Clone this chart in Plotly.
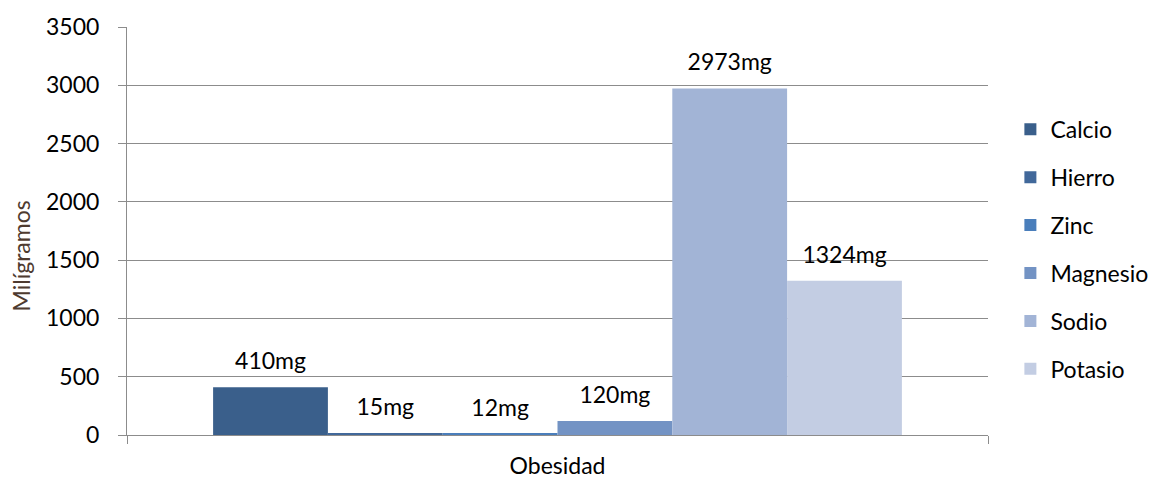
import plotly.graph_objects as go

category = ["Obesidad"]
series_names = ["Calcio", "Hierro", "Zinc", "Magnesio", "Sodio", "Potasio"]
series_values = [410, 15, 12, 120, 2973, 1324]
colors = ["#3A5F8B", "#41689A", "#4A7EBB", "#7393C4", "#A2B4D6", "#C3CDE3"]
y_ticks = [0, 500, 1000, 1500, 2000, 2500, 3000, 3500]

font_family = "Lato, Open Sans, sans-serif"
FS = 23

fig = go.Figure()
for name, val, col in zip(series_names, series_values, colors):
    fig.add_trace(go.Bar(
        x=category, y=[val], name=name, legendgroup=name,
        marker=dict(color=col, line=dict(width=0)),
        hoverinfo="name+y",
    ))
# data labels, grouped to sit above the bars
for name, val in zip(series_names, series_values):
    fig.add_trace(go.Scatter(
        x=category, y=[val], mode="markers+text", showlegend=False,
        marker=dict(size=18, color="rgba(0,0,0,0)"),
        text=[f"{val}mg"], textposition="top center",
        textfont=dict(size=FS, color="#000000", family=font_family),
        cliponaxis=False, hoverinfo="skip",
    ))

fig.update_layout(
    width=1159, height=481,
    barmode="group", bargap=0.2, bargroupgap=0,
    scattermode="group", scattergap=0.2,
    plot_bgcolor="white", paper_bgcolor="white",
    margin=dict(l=119, r=179, t=19, b=54, autoexpand=False),
    font=dict(family=font_family, size=FS, color="#000000"),
    showlegend=True,
    legend=dict(x=1.026, y=0.455, xanchor="left", yanchor="middle",
                font=dict(size=FS), tracegroupgap=15, itemwidth=30,
                bgcolor="rgba(0,0,0,0)"),
    annotations=[dict(
        text="Milígramos", textangle=-90, showarrow=False,
        xref="paper", yref="paper", x=-0.122, y=0.44,
        xanchor="center", yanchor="middle",
        font=dict(size=FS, color="#4E3B30", family=font_family),
    )],
)
fig.update_yaxes(
    range=[0, 3500], tickvals=y_ticks, ticktext=[str(v) for v in y_ticks],
    showgrid=True, gridcolor="#8C8C8C", gridwidth=1,
    showline=True, linecolor="#8C8C8C", linewidth=1,
    ticks="outside", ticklen=8, tickcolor="#8C8C8C",
    ticklabelstandoff=14,
    zeroline=False,
)
fig.update_xaxes(
    showline=True, linecolor="#8C8C8C", linewidth=1,
    ticks="outside", ticklen=8, tickcolor="#8C8C8C", tickson="boundaries",
    ticklabelstandoff=10,
    showgrid=False,
)
fig.write_html("out.html")
